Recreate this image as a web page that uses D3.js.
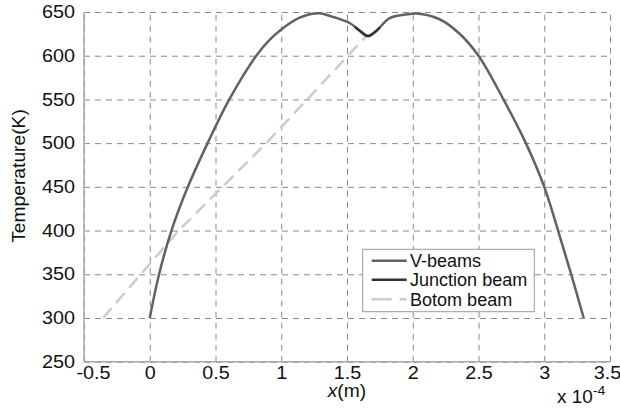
<!DOCTYPE html>
<html><head><meta charset="utf-8">
<script src="https://cdn.jsdelivr.net/npm/d3@7"></script>
<style>
html,body{margin:0;padding:0;background:#fff;}
text{font-family:"Liberation Sans",Arial,sans-serif;fill:#111;}
</style></head>
<body>
<svg id="c" width="620" height="410"></svg>
<script>
// ---- data (x in units of 1e-4 m, temperature in K) ----
const vBeamX = [0, 0.071, 0.165, 0.29, 0.44, 0.605, 0.81, 0.90, 1.00, 1.14, 1.29, 1.37, 1.52, 1.597, 1.66, 1.724, 1.825, 1.976, 2.03, 2.20, 2.35, 2.50, 2.69, 2.86, 3.00, 3.105, 3.205, 3.30];
const vBeamT = [300, 350, 400, 450, 500, 550, 600, 616.5, 630, 643.5, 648.5, 645.5, 637.4, 628.6, 622.5, 628.6, 643, 647.6, 648.3, 642, 626, 600, 550, 500, 450, 400, 350, 300];
const junctionX = [1.56, 1.597, 1.66, 1.724, 1.75];
const junctionT = [633, 628.6, 622.5, 628.6, 632.5];
const bottomX = [-0.355, 0.22, 0.886, 1.65];
const bottomT = [300, 400, 500, 623];
const xTicks = [-0.5, 0, 0.5, 1, 1.5, 2, 2.5, 3, 3.5];
const xTickLabels = ["-0.5", "0", "0.5", "1", "1.5", "2", "2.5", "3", "3.5"];
const yTicks = [250, 300, 350, 400, 450, 500, 550, 600, 650];
const legendNames = ["V-beams", "Junction beam", "Botom beam"];
const seriesColors = ["#626262", "#333333", "#cccccc"];

const svg = d3.select("#c");
const L = 84, R = 610, T = 12, B = 361.7;
const x = d3.scaleLinear().domain([-0.5, 3.5]).range([L, R]);
const y = d3.scaleLinear().domain([250, 650]).range([B, T]);
function stretch(sel, k){
  sel.each(function(){
    const w = this.getComputedTextLength();
    if (w > 0) { this.setAttribute("textLength", w * k); this.setAttribute("lengthAdjust", "spacingAndGlyphs"); }
  });
}

// grid
const gx = svg.append("g").attr("transform", `translate(0,${B})`)
  .call(d3.axisBottom(x).tickValues(xTicks).tickSize(-(B - T)).tickFormat(""));
const gy = svg.append("g").attr("transform", `translate(${L},0)`)
  .call(d3.axisLeft(y).tickValues(yTicks).tickSize(-(R - L)).tickFormat(""));
[gx, gy].forEach(g => {
  g.select(".domain").remove();
  g.selectAll(".tick line").attr("stroke", "#8a8a8a").attr("stroke-width", 1).attr("stroke-dasharray", "6,5");
});

// axes lines
svg.append("line").attr("x1", L).attr("x2", L).attr("y1", T).attr("y2", B).attr("stroke", "#a8a8a8").attr("stroke-width", 1.5);
svg.append("line").attr("x1", L).attr("x2", R).attr("y1", B).attr("y2", B).attr("stroke", "#a8a8a8").attr("stroke-width", 1.5);

// tick labels
const ax = svg.append("g").attr("transform", `translate(0,${B})`)
  .call(d3.axisBottom(x).tickValues(xTicks).tickSize(0).tickPadding(5).tickFormat((d, i) => xTickLabels[i]));
ax.select(".domain").remove();
ax.selectAll("text").attr("font-size", 17.5).attr("fill", "#111").attr("font-family", "Liberation Sans, Arial, sans-serif")
  .attr("dx", (d, i) => i === 0 ? 9 : (i === xTicks.length - 1 ? -3 : 0));
const ay = svg.append("g").attr("transform", `translate(${L},0)`)
  .call(d3.axisLeft(y).tickValues(yTicks).tickSize(0).tickPadding(9));
ay.select(".domain").remove();
ay.selectAll("text").attr("font-size", 17.5).attr("fill", "#111").attr("font-family", "Liberation Sans, Arial, sans-serif");
ax.selectAll("text").call(stretch, 1.13);
ay.selectAll("text").call(stretch, 1.13);

// lines
const line = d3.line().curve(d3.curveCatmullRom.alpha(0.5)).x(d => x(d[0])).y(d => y(d[1]));
const lin = d3.line().x(d => x(d[0])).y(d => y(d[1]));
svg.append("path").datum(bottomX.map((v, i) => [v, bottomT[i]])).attr("d", lin)
  .attr("fill", "none").attr("stroke", seriesColors[2]).attr("stroke-width", 2.5).attr("stroke-dasharray", "13,7");
svg.append("path").datum(vBeamX.map((v, i) => [v, vBeamT[i]])).attr("d", line)
  .attr("fill", "none").attr("stroke", seriesColors[0]).attr("stroke-width", 2.5);
svg.append("path").datum(junctionX.map((v, i) => [v, junctionT[i]])).attr("d", line)
  .attr("fill", "none").attr("stroke", seriesColors[1]).attr("stroke-width", 2.5);

// axis titles
const yl = svg.append("text").attr("transform", "translate(25,176) rotate(-90)").attr("text-anchor", "middle")
  .attr("font-size", 17.5).text("Temperature(K)");
yl.call(stretch, 1.1);
const xl = svg.append("text").attr("x", 347).attr("y", 397).attr("text-anchor", "middle").attr("font-size", 17.5);
xl.append("tspan").attr("font-style", "italic").text("x");
xl.append("tspan").text("(m)");
xl.call(stretch, 1.1);
const ex = svg.append("text").attr("x", 557).attr("y", 403).attr("font-size", 17.5);
ex.append("tspan").text("x 10");
ex.append("tspan").attr("font-size", 13).attr("dy", -8).text("-4");
ex.call(stretch, 1.08);

// legend
const lg = svg.append("g");
lg.append("rect").attr("x", 362.7).attr("y", 249.3).attr("width", 171.6).attr("height", 62.4)
  .attr("fill", "#fff").attr("stroke", "#999").attr("stroke-width", 1);
const rowsY = [260.7, 279.8, 299.3];
legendNames.forEach((n, i) => {
  lg.append("line").attr("x1", 371.7).attr("x2", 406.7).attr("y1", rowsY[i]).attr("y2", rowsY[i])
    .attr("stroke", seriesColors[i]).attr("stroke-width", 2.5)
    .attr("stroke-dasharray", i === 2 ? "20,8" : null);
  lg.append("text").attr("x", 410).attr("y", rowsY[i] + 6.3).attr("font-size", 17.5).text(n).call(stretch, 1.03);
});
</script>
</body></html>
